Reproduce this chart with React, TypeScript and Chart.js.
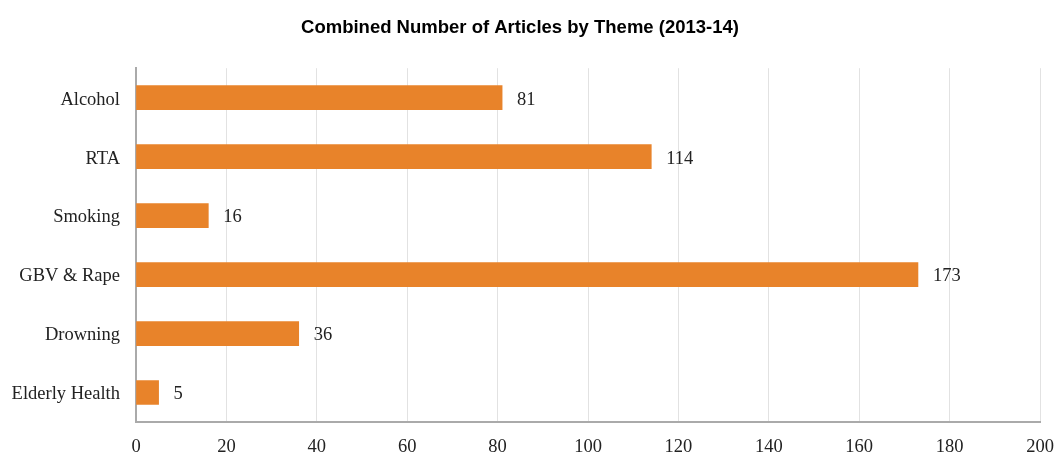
import React, { useEffect, useRef } from "react";
import { Chart, registerables } from "chart.js";

Chart.register(...registerables);

const categories = ["Alcohol", "RTA", "Smoking", "GBV & Rape", "Drowning", "Elderly Health"];
const articleCounts = [81, 114, 16, 173, 36, 5];
const chartTitle = "Combined Number of Articles by Theme (2013-14)";

const SERIF = "'Liberation Serif', 'Times New Roman', serif";
const FS = 18.5;

const valueLabelPlugin = {
  id: "valueLabels",
  afterDatasetsDraw(chart: any) {
    const ctx = chart.ctx;
    const meta = chart.getDatasetMeta(0);
    ctx.save();
    ctx.font = `${FS}px ${SERIF}`;
    ctx.fillStyle = "#222222";
    ctx.textAlign = "left";
    ctx.textBaseline = "middle";
    meta.data.forEach((bar: any, i: number) => {
      ctx.fillText(String(chart.data.datasets[0].data[i]), bar.x + 15, bar.y + 2);
    });
    ctx.restore();
  },
};

export default function App() {
  const canvasRef = useRef<HTMLCanvasElement | null>(null);

  useEffect(() => {
    if (!canvasRef.current) return;
    const chart = new Chart(canvasRef.current, {
      type: "bar",
      data: {
        labels: categories,
        datasets: [
          {
            data: articleCounts,
            backgroundColor: "#E8832A",
            borderWidth: 0,
            barThickness: 24,
          },
        ],
      },
      options: {
        indexAxis: "y",
        animation: false,
        responsive: false,
        maintainAspectRatio: false,
        layout: { autoPadding: false, padding: { left: 0, right: 17, top: 0, bottom: 0 } },
        plugins: {
          legend: { display: false },
          tooltip: { enabled: false },
          title: {
            display: true,
            text: chartTitle,
            color: "#000000",
            font: { family: "'Liberation Sans', Arial, sans-serif", size: FS, weight: "bold" },
            padding: { top: 17, bottom: 29 },
          },
        },
        scales: {
          x: {
            min: 0,
            max: 200,
            ticks: {
              stepSize: 20,
              color: "#222222",
              font: { family: SERIF, size: FS },
              padding: 14,
            },
            grid: { color: "#e2e2e2", drawTicks: false, lineWidth: 1 },
            border: { color: "#aaaaaa", width: 2 },
            afterFit: (s: any) => {
              s.height = 33;
              s.paddingLeft = 0;
              s.paddingRight = 0;
            },
          },
          y: {
            ticks: {
              color: "#222222",
              font: { family: SERIF, size: FS },
              padding: 16,
              labelOffset: 2,
            },
            grid: { display: false, drawTicks: false },
            border: { color: "#aaaaaa", width: 2 },
            afterFit: (s: any) => {
              s.width = 136;
            },
          },
        },
      },
      plugins: [valueLabelPlugin],
    });
    return () => chart.destroy();
  }, []);

  return (
    <div style={{ position: "fixed", left: 0, top: 0, width: 1057, height: 455, background: "#ffffff" }}>
      <canvas ref={canvasRef} width={1057} height={455} style={{ display: "block" }} />
    </div>
  );
}
